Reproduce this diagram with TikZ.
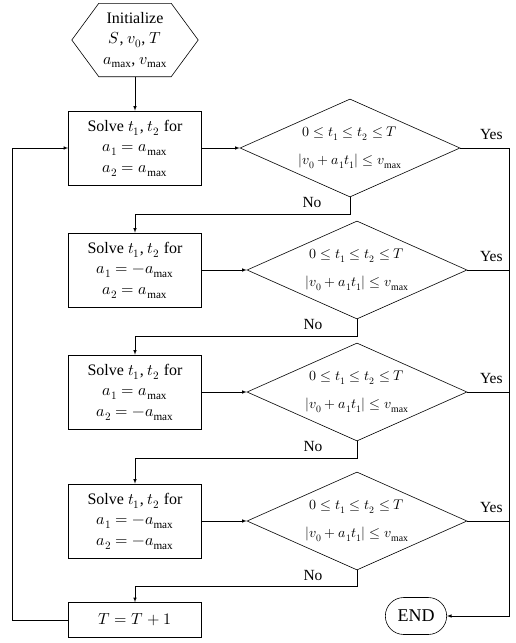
\documentclass[tikz,border=0pt]{standalone}
\usepackage{unicode-math}
\setmainfont{Liberation Serif}
\usetikzlibrary{shapes.geometric,shapes.misc}
\tikzset{
    solvebox/.style = {draw, line width=0.6pt, minimum width=133pt, minimum height=74pt, inner sep=2pt, align=center, font=\fontsize{16}{20.5}\selectfont},
    testbox/.style = {draw, line width=0.6pt, diamond, aspect=2.25, minimum width=220pt, minimum height=98pt, inner sep=0pt, align=center, font=\fontsize{14}{28}\selectfont},
    lbl/.style = {font=\fontsize{15.5}{17}\selectfont},
    flow/.style = {-latex, line width=0.6pt},
    wire/.style = {line width=0.6pt}
}
\begin{document}
\begin{tikzpicture}[x=1pt, y=-1pt]
    \useasboundingbox (0,0) rectangle (516,643);
%start
    \node[minimum width=126pt, minimum height=73pt, align=center, font=\fontsize{16}{20.5}\selectfont] (init) at (135,40)
        {Initialize\\ $S$, $v_0$, $T$\\ $a_{\max}$, $v_{\max}$};
    \draw[wire] (init.west) -- ([xshift=27pt]init.north west) -- ([xshift=-27pt]init.north east)
        -- (init.east) -- ([xshift=-27pt]init.south east) -- ([xshift=27pt]init.south west) -- cycle;
%solve boxes
    \node[solvebox] (s1) at (135,148) {Solve $t_1$, $t_2$ for\\ $a_1=a_{\max}$\\ $a_2=a_{\max}$};
    \node[solvebox] (s2) at (135,270) {Solve $t_1$, $t_2$ for\\ $a_1=-a_{\max}$\\ $a_2=a_{\max}$};
    \node[solvebox] (s3) at (135,392) {Solve $t_1$, $t_2$ for\\ $a_1=a_{\max}$\\ $a_2=-a_{\max}$};
    \node[solvebox] (s4) at (135,521) {Solve $t_1$, $t_2$ for\\ $a_1=-a_{\max}$\\ $a_2=-a_{\max}$};
    \node[solvebox, minimum height=35pt] (inc) at (135,620) {$T=T+1$};
%tests
    \node[testbox] (t1) at (350,148) {$0\le t_1\le t_2\le T$\\ $|v_0+a_1t_1|\le v_{\max}$};
    \node[testbox] (t2) at (357,270) {$0\le t_1\le t_2\le T$\\ $|v_0+a_1t_1|\le v_{\max}$};
    \node[testbox] (t3) at (357,392) {$0\le t_1\le t_2\le T$\\ $|v_0+a_1t_1|\le v_{\max}$};
    \node[testbox] (t4) at (357,521) {$0\le t_1\le t_2\le T$\\ $|v_0+a_1t_1|\le v_{\max}$};
%end
    \node[draw, line width=0.6pt, rounded rectangle, minimum width=68pt, minimum height=37pt, font=\fontsize{18}{20}\selectfont] (end) at (416,616) {END};
    \coordinate (bus) at (509,616);
%flow
    \draw[flow] (init.south) -- (s1.north);
    \draw[flow] (s1.east) -- (t1.west);
    \draw[flow] (s2.east) -- (t2.west);
    \draw[flow] (s3.east) -- (t3.west);
    \draw[flow] (s4.east) -- (t4.west);
    \draw[flow] (t1.south) -- ++(0,17) -| (s2.north);
    \draw[flow] (t2.south) -- ++(0,17) -| (s3.north);
    \draw[flow] (t3.south) -- ++(0,17) -| (s4.north);
    \draw[flow] (t4.south) -- ++(0,16) -| (inc.north);
    \draw[flow] (inc.west) -- ++(-56,0) |- (s1.west);
%yes
    \draw[flow] (t1.east) -| (bus) -- (end.east);
    \draw[wire] (t2.east) -- (t2.east -| bus);
    \draw[wire] (t3.east) -- (t3.east -| bus);
    \draw[wire] (t4.east) -- (t4.east -| bus);
%labels
    \node[lbl] (y1) at ([xshift=31pt, yshift=14pt]t1.east) {Yes};
    \node[lbl] (y2) at ([xshift=24pt, yshift=14pt]t2.east) {Yes};
    \node[lbl] (y3) at ([xshift=24pt, yshift=14pt]t3.east) {Yes};
    \node[lbl] (y4) at ([xshift=24pt, yshift=14pt]t4.east) {Yes};
    \node[lbl] (n1) at ([xshift=-38pt, yshift=-5pt]t1.south) {No};
    \node[lbl] (n2) at ([xshift=-44pt, yshift=-5pt]t2.south) {No};
    \node[lbl] (n3) at ([xshift=-44pt, yshift=-5pt]t3.south) {No};
    \node[lbl] (n4) at ([xshift=-44pt, yshift=-5pt]t4.south) {No};
\end{tikzpicture}
\end{document}
